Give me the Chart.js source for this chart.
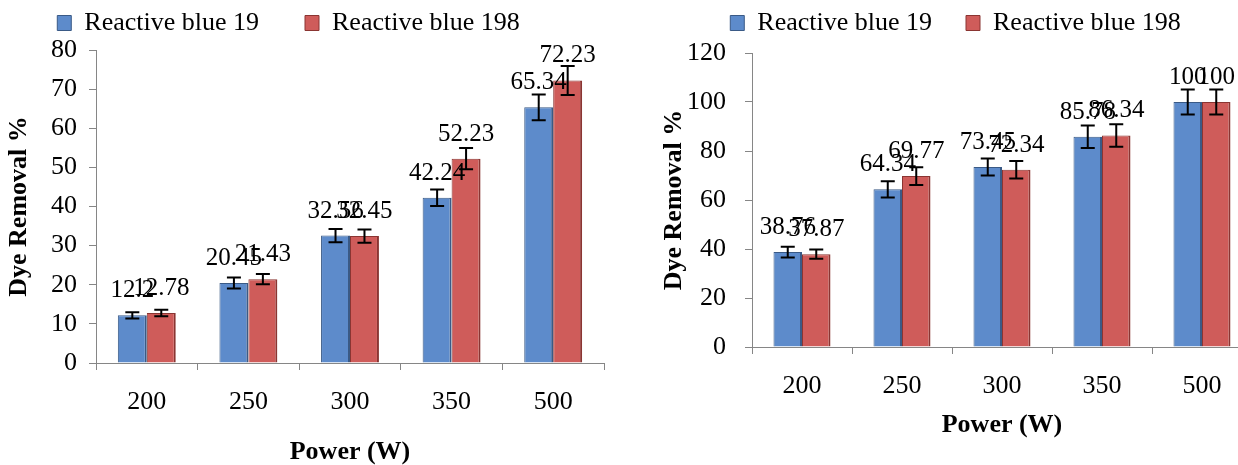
<!DOCTYPE html>
<html>
<head>
<meta charset="utf-8">
<script src="https://cdn.jsdelivr.net/npm/chart.js@4.4.0/dist/chart.umd.min.js"></script>
<style>
    body { margin: 0; width: 1238px; height: 465px; overflow: hidden; background: #fff; position: relative; }
    .box { position: absolute; top: 0; }
    #left_box { left: 0; }
    #right_box { left: 620px; }
</style>
</head>
<body>
<div class="box" id="left_box"><canvas id="left_chart" width="620" height="465"></canvas></div>
<div class="box" id="right_box"><canvas id="right_chart" width="660" height="465"></canvas></div>
<script>
// power levels (W)
let power_labels = ["200", "250", "300", "350", "500"]

// left panel
let rb19_left = [12.2, 20.45, 32.56, 42.24, 65.34]
let rb198_left = [12.78, 21.43, 32.45, 52.23, 72.23]
let rb19_left_err = [0.8, 1.4, 1.7, 2.1, 3.3]
let rb198_left_err = [0.8, 1.3, 1.7, 2.7, 3.7]

// right panel
let rb19_right = [38.76, 64.34, 73.45, 85.78, 100]
let rb198_right = [37.87, 69.77, 72.34, 86.34, 100]
let rb19_right_err = [2.2, 3.3, 3.5, 4.6, 5.1]
let rb198_right_err = [1.9, 3.6, 3.6, 4.6, 5.1]

let serif = "'Liberation Serif', 'Times New Roman', serif"
let axis_gray = "#868686"

// value labels, then error bars on top of them
let bar_text = {
    id: "bar_text",
    afterDatasetsDraw(chart) {
        let ctx = chart.ctx
        let y_scale = chart.scales.y
        ctx.save()
        ctx.font = "25px " + serif
        ctx.fillStyle = "#000"
        ctx.textAlign = "center"
        ctx.textBaseline = "alphabetic"
        chart.data.datasets.forEach((ds, i) => {
            chart.getDatasetMeta(i).data.forEach((bar, j) => {
                ctx.fillText(String(ds.data[j]), bar.x, bar.y - 18)
            })
        })
        ctx.strokeStyle = "#000"
        ctx.lineWidth = 2
        chart.data.datasets.forEach((ds, i) => {
            chart.getDatasetMeta(i).data.forEach((bar, j) => {
                let hi = y_scale.getPixelForValue(ds.data[j] + ds.err[j])
                let lo = y_scale.getPixelForValue(ds.data[j] - ds.err[j])
                ctx.beginPath()
                ctx.moveTo(bar.x, hi); ctx.lineTo(bar.x, lo)
                ctx.moveTo(bar.x - 7, hi); ctx.lineTo(bar.x + 7, hi)
                ctx.moveTo(bar.x - 7, lo); ctx.lineTo(bar.x + 7, lo)
                ctx.stroke()
            })
        })
        ctx.restore()
    }
}

function legend_space(extra) {
    return {
        id: "legend_space",
        beforeInit(chart) {
            let fit = chart.legend.fit
            chart.legend.fit = function () {
                fit.call(this)
                this.height += extra
            }
        }
    }
}

function drow_chart(canvas, blue, red, blue_err, red_err, cfg) {
    return new Chart(canvas, {
        type: "bar",
        data: {
            labels: power_labels,
            datasets: [{
                label: "Reactive blue 19",
                data: blue,
                err: blue_err,
                backgroundColor: "#5D8BCB",
                borderColor: "#3A5A86",
                borderWidth: { top: 1, left: 1, right: 2, bottom: 0 }
            }, {
                label: "Reactive blue 198",
                data: red,
                err: red_err,
                backgroundColor: "#CF5C5A",
                borderColor: "#8A3532",
                borderWidth: { top: 1, left: 1, right: 2, bottom: 0 }
            }]
        },
        options: {
            responsive: false,
            animation: false,
            categoryPercentage: 0.57,
            barPercentage: 1,
            layout: { padding: { left: cfg.pad_left, right: cfg.pad_right, top: cfg.pad_top, bottom: 0 } },
            plugins: {
                tooltip: { enabled: false },
                legend: {
                    position: "top",
                    labels: {
                        font: { family: serif, size: 26 },
                        color: "#000",
                        boxWidth: 14,
                        boxHeight: 15,
                        padding: cfg.legend_pad
                    }
                }
            },
            scales: {
                x: {
                    grid: { drawOnChartArea: false, tickLength: 7, color: axis_gray, offset: true },
                    border: { color: axis_gray },
                    ticks: { font: { family: serif, size: 26 }, color: "#000", padding: 17 },
                    title: {
                        display: true, text: "Power (W)", color: "#000",
                        font: { family: serif, size: 26, weight: "bold" },
                        padding: { top: 0, bottom: cfg.x_title_pad }
                    },
                    afterFit(s) { s.height = cfg.x_height }
                },
                y: {
                    min: 0,
                    max: cfg.y_max,
                    ticks: { stepSize: cfg.y_step, font: { family: serif, size: 26 }, color: "#000", padding: cfg.y_tick_pad },
                    grid: { drawOnChartArea: false, tickLength: 7, color: axis_gray },
                    border: { color: axis_gray },
                    title: {
                        display: true, text: "Dye Removal %", color: "#000",
                        font: { family: serif, size: 26, weight: "bold" },
                        padding: { top: cfg.y_title_pad, bottom: 0 }
                    },
                    afterFit(s) { s.width = cfg.y_width }
                }
            }
        },
        plugins: [legend_space(cfg.legend_extra), bar_text]
    })
}

drow_chart(document.getElementById("left_chart"), rb19_left, rb198_left, rb19_left_err, rb198_left_err, {
    pad_left: -27, pad_right: 16, pad_top: -36, legend_pad: 46, legend_extra: 4,
    y_width: 123, x_height: 102,
    y_max: 80, y_step: 10, y_tick_pad: 12, y_title_pad: 31, x_title_pad: -3
})

drow_chart(document.getElementById("right_chart"), rb19_right, rb198_right, rb19_right_err, rb198_right_err, {
    pad_left: 39, pad_right: 28, pad_top: -24, legend_pad: 34, legend_extra: 7,
    y_width: 93, x_height: 118,
    y_max: 120, y_step: 20, y_tick_pad: 19, y_title_pad: 0, x_title_pad: 24
})
</script>
</body>
</html>
